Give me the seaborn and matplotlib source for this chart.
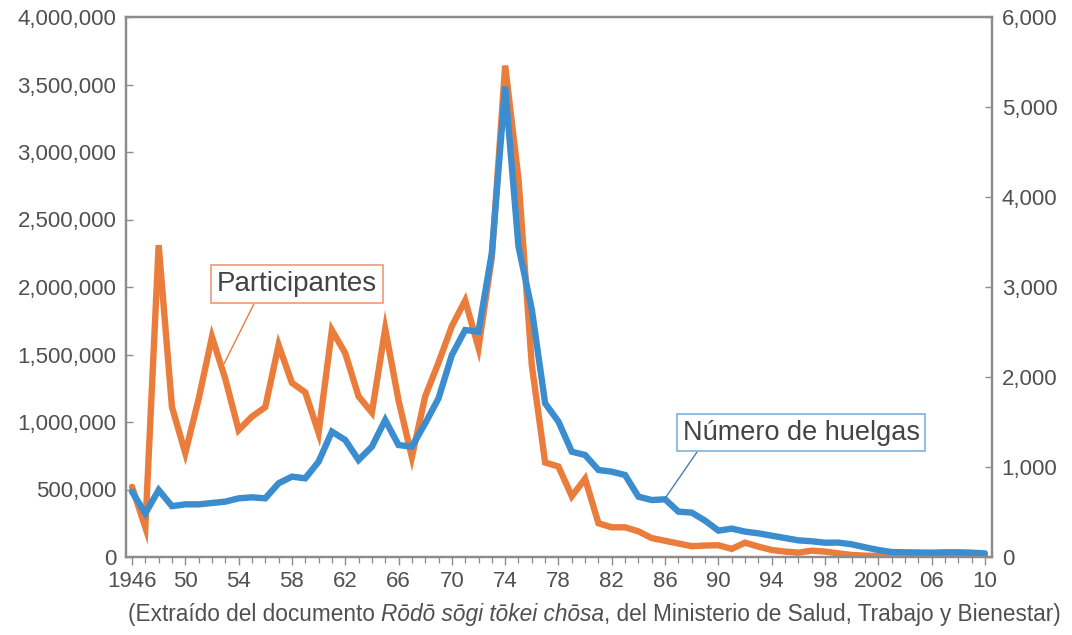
import matplotlib
matplotlib.use("Agg")
import matplotlib.pyplot as plt
import matplotlib.ticker as mticker
import numpy as np
import pandas as pd
import seaborn as sns

# ---------------- data ----------------
years = list(range(1946, 2011))

participantes = [
    520000, 220000, 2310000, 1110000, 770000, 1170000, 1630000, 1320000, 940000, 1040000,
    1110000, 1570000, 1290000, 1220000, 920000, 1680000, 1510000, 1190000, 1070000, 1690000,
    1160000, 740000, 1190000, 1440000, 1710000, 1900000, 1550000, 2220000, 3640000, 2800000,
    1420000, 700000, 670000, 450000, 580000, 250000, 220000, 220000, 190000, 140000,
    120000, 100000, 80000, 85000, 87000, 60000, 106000, 77000, 52000, 40000,
    32000, 47000, 40000, 27000, 15000, 10000, 8000, 7000, 6000, 5000,
    8000, 5000, 4000, 4000, 4000,
]

huelgas = [
    726, 485, 744, 565, 585, 585, 600, 615, 652, 663,
    652, 819, 893, 874, 1059, 1393, 1300, 1078, 1226, 1522,
    1244, 1226, 1485, 1763, 2244, 2522, 2504, 3378, 5226, 3450,
    2750, 1708, 1504, 1170, 1133, 967, 948, 911, 670, 633,
    641, 504, 493, 404, 293, 315, 282, 263, 237, 211,
    185, 175, 159, 160, 141, 108, 78, 55, 52, 50,
    48, 52, 52, 48, 40,
]

x_major = list(range(1946, 2011, 4))
x_labels = ["1946", "50", "54", "58", "62", "66", "70", "74", "78", "82",
            "86", "90", "94", "98", "2002", "06", "10"]
left_ticks = list(range(0, 4000001, 500000))
right_ticks = list(range(0, 6001, 1000))

label_part = "Participantes"
label_strk = "Número de huelgas"
footer_a = "(Extraído del documento "
footer_b = "Rōdō sōgi tōkei chōsa"
footer_c = ", del Ministerio de Salud, Trabajo y Bienestar)"

df = pd.DataFrame({"year": years, "participantes": participantes, "huelgas": huelgas})

# ---------------- style ----------------
sns.set_theme(style="white")
plt.rcParams["font.family"] = ["Liberation Sans", "DejaVu Sans"]

ORANGE = "#EB7D3C"
BLUE = "#3B8DCF"
SPINE = "#8C8C8C"
TXT = "#505050"

fig = plt.figure(figsize=(10.72, 6.35), dpi=100)
W, H = 1072, 635
L, R, T, B = 126, 992, 17, 557
ax = fig.add_axes([L / W, 1 - B / H, (R - L) / W, (B - T) / H])
ax2 = ax.twinx()

sns.lineplot(data=df, x="year", y="participantes", ax=ax, color=ORANGE,
             linewidth=4.6, solid_joinstyle="miter")
sns.lineplot(data=df, x="year", y="huelgas", ax=ax2, color=BLUE,
             linewidth=4.6, solid_joinstyle="miter")

ax.set_xlim(1945.55, 2010.53)
ax.set_ylim(0, 4000000)
ax2.set_ylim(0, 6000)
ax.set_xlabel("")
ax.set_ylabel("")
ax2.set_ylabel("")

ax.set_xticks(x_major)
ax.set_xticklabels(x_labels)
ax.xaxis.set_minor_locator(mticker.MultipleLocator(1))
ax.set_yticks(left_ticks)
ax.yaxis.set_major_formatter(mticker.FuncFormatter(lambda v, p: f"{int(v):,}"))
ax2.set_yticks(right_ticks)
ax2.yaxis.set_major_formatter(mticker.FuncFormatter(lambda v, p: f"{int(v):,}"))

for a in (ax, ax2):
    for s in a.spines.values():
        s.set_color(SPINE)
        s.set_linewidth(1.6)
        s.set_visible(True)
    a.grid(False)

ax.tick_params(axis="x", which="major", direction="out", length=6, width=1.0,
               color=SPINE, labelsize=16, labelcolor=TXT, pad=4, bottom=True)
ax.tick_params(axis="x", which="minor", direction="out", length=4.5, width=0.9,
               color=SPINE, bottom=True)
ax.tick_params(axis="y", which="major", direction="in", length=5, width=1.0,
               color=SPINE, labelsize=16, labelcolor=TXT, pad=7, left=True)
ax2.tick_params(axis="y", which="major", direction="in", length=5, width=1.0,
                color=SPINE, labelsize=16, labelcolor=TXT, pad=7, right=True)

# ---------------- annotation boxes ----------------
ax.annotate(label_part, xy=(1952.9, 1430000), xytext=(1958.4, 2020000),
            fontsize=20, color="#444444", ha="center", va="center",
            bbox=dict(boxstyle="square,pad=0.22", fc="white", ec="#EE9A78", lw=1.2),
            arrowprops=dict(arrowstyle="-", color=ORANGE, lw=1.0,
                            shrinkA=0, shrinkB=0, relpos=(0.25, 0)))

ax2.annotate(label_strk, xy=(1986.0, 652), xytext=(1996.2, 1383),
             fontsize=19.5, color="#444444", ha="center", va="center",
             bbox=dict(boxstyle="square,pad=0.22", fc="white", ec="#7FB0DA", lw=1.2),
             arrowprops=dict(arrowstyle="-", color="#4A7FAF", lw=1.0,
                             shrinkA=0, shrinkB=0, relpos=(0.08, 0)))

# ---------------- footer ----------------
FS = 16.3
t1 = fig.text(128 / W, 1 - 621 / H, footer_a, fontsize=FS, color=TXT,
              ha="left", va="baseline")
t2 = ax.annotate(footer_b, xy=(1, 0), xycoords=t1, va="bottom", ha="left",
                 fontsize=FS, color=TXT, style="italic", annotation_clip=False)
t3 = ax.annotate(footer_c, xy=(1, 0), xycoords=t2, va="bottom", ha="left",
                 fontsize=FS, color=TXT, annotation_clip=False)

fig.savefig("out.png", dpi=100, facecolor="white")
